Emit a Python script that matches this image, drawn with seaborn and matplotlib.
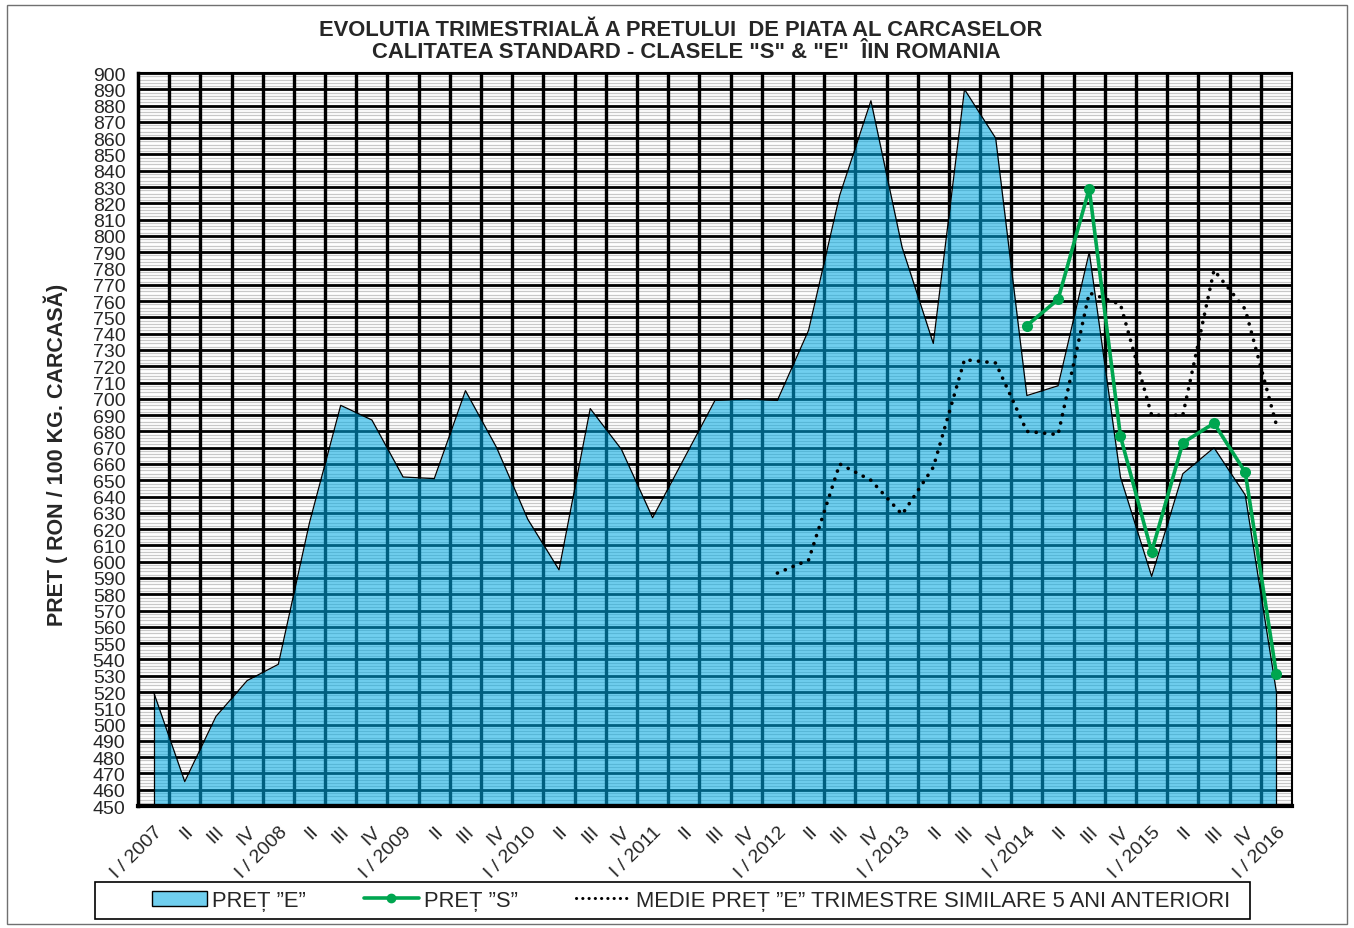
import numpy as np
import pandas as pd
import matplotlib
matplotlib.use("Agg")
import matplotlib.pyplot as plt
from matplotlib.patches import Rectangle, Patch
from matplotlib.lines import Line2D
import seaborn as sns

# etichete trimestre
labels = []
for an in range(2007, 2016):
    labels += ["I / %d" % an, "II", "III", "IV"]
labels += ["I / 2016"]

pret_e = [520, 465, 505, 527,
          537, 624, 696, 687,
          652, 651, 705, 670,
          626, 595, 694, 669,
          627, 663, 699, 700,
          699, 742, 825, 883,
          793, 734, 890, 860,
          702, 708, 790, 652,
          591, 654, 670, 641,
          520]

pret_s = [None] * 28 + [745, 761, 829, 677, 606, 673, 685, 655, 531]

medie_e = [None] * 20 + [593, 601, 660, 650, 629, 658, 724, 722,
                         680, 678, 765, 758, 690, 690, 779, 755, 684]

sns.set_style("white")
plt.rcParams["font.family"] = ["Liberation Sans", "DejaVu Sans"]

df = pd.DataFrame({"trim": labels, "E": pret_e, "S": pret_s, "M": medie_e})
df["x"] = np.arange(len(df)) + 0.5
df = df.astype({"S": float, "M": float})

fig = plt.figure(figsize=(13.54, 9.29), dpi=100)
ax = fig.add_axes([0.1019, 0.1313, 0.8523, 0.789])

# grila
ax.set_xlim(0, len(df))
ax.set_ylim(450, 900)
ax.set_yticks(np.arange(450, 901, 10))
ax.set_yticks(np.arange(450, 901, 2), minor=True)
ax.set_xticks(df["x"])
ax.set_xticklabels(df["trim"], rotation=45, ha="right", va="top",
                   rotation_mode="anchor", fontsize=14)
ax.set_xticks(np.arange(0, len(df) + 1), minor=True)
ax.set_axisbelow(True)
ax.grid(which="minor", axis="y", color="#c8c8c8", lw=0.9, zorder=0)
ax.grid(which="major", axis="y", color="black", lw=2.0, zorder=0.5)
for b in range(1, len(df)):
    ax.axvline(b, color="black", lw=2.4, zorder=1)
ax.tick_params(axis="y", which="major", labelsize=14, length=4, width=2.2, pad=5)
ax.tick_params(axis="y", which="minor", length=4, width=1.6)
ax.tick_params(axis="x", which="major", length=0, pad=12)
ax.tick_params(axis="x", which="minor", length=5, width=2.2)
for s in ax.spines.values():
    s.set_color("black")
    s.set_linewidth(1.5)
ax.spines["left"].set_linewidth(2.5)
ax.spines["bottom"].set_linewidth(3)

# aria pret E
ax.fill_between(df["x"], df["E"], 450, color=(0 / 255, 170 / 255, 228 / 255),
                alpha=0.56, lw=0, zorder=2)
sns.lineplot(data=df, x="x", y="E", ax=ax, color="black", lw=0.9, zorder=3)
ax.vlines([df["x"].iloc[0], df["x"].iloc[-1]], 450,
          [df["E"].iloc[0], df["E"].iloc[-1]], color="black", lw=0.9, zorder=3)

# medie
sns.lineplot(data=df, x="x", y="M", ax=ax, color="black", lw=2.6,
             linestyle=(0, (0.05, 2.3)), dash_capstyle="round", zorder=4)
# pret S
sns.lineplot(data=df, x="x", y="S", ax=ax, color="#00a650", lw=2.6,
             marker="o", markersize=8, markeredgewidth=0, zorder=5)

ax.set_xlabel("")
ax.set_ylabel("PRET ( RON / 100 KG. CARCASĂ)", fontsize=15.5, fontweight="bold")
ax.yaxis.set_label_coords(-0.0603, 0.48)

fig.text(0.503, 0.967, "EVOLUTIA TRIMESTRIALĂ A PRETULUI  DE PIATA AL CARCASELOR",
         ha="center", va="center", fontsize=15.8, fontweight="bold")
fig.text(0.507, 0.943, "CALITATEA STANDARD - CLASELE \"S\" & \"E\"  ÎIN ROMANIA",
         ha="center", va="center", fontsize=15.8, fontweight="bold")

# legenda
handles = [Patch(facecolor=(0, 170 / 255, 228 / 255, 0.56), edgecolor="black", lw=1),
           Line2D([], [], color="#00a650", lw=2.6, marker="o", markersize=6),
           Line2D([], [], color="black", lw=2.2, linestyle=(0, (0.05, 2.0)),
                  dash_capstyle="round")]
fig.legend(handles, ["PREȚ ”E”", "PREȚ ”S”",
                     "MEDIE PREȚ ”E” TRIMESTRE SIMILARE 5 ANI ANTERIORI"],
           loc="center", bbox_to_anchor=(0.5103, 0.0296), ncol=3, frameon=False,
           fontsize=15.8, handlelength=2.5, handletextpad=0.23, columnspacing=2.65)
fig.patches.append(Rectangle((0.0702, 0.0097), 0.8530, 0.0398, transform=fig.transFigure,
                             fill=False, edgecolor="black", lw=1.2))
fig.patches.append(Rectangle((0.005, 0.004), 0.99, 0.99, transform=fig.transFigure,
                             fill=False, edgecolor="#707070", lw=1))
if ax.get_legend():
    ax.get_legend().remove()

fig.savefig("out.png", dpi=100)
